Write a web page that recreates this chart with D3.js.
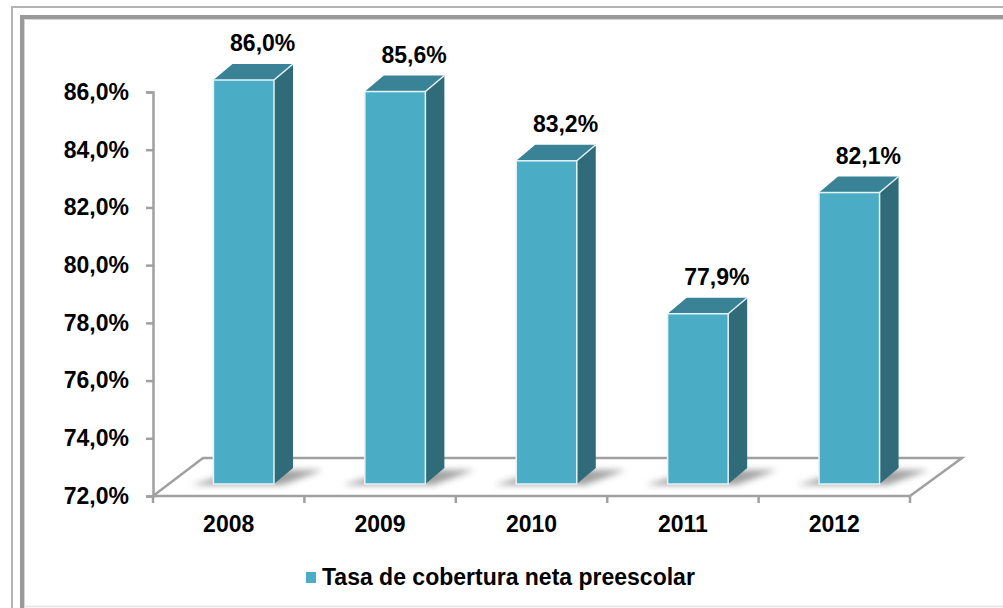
<!DOCTYPE html>
<html>
<head>
<meta charset="utf-8">
<script src="https://cdn.jsdelivr.net/npm/d3@7"></script>
<style>
  body { margin: 0; background: #fff; }
  svg { display: block; font-family: "Liberation Sans", Arial, sans-serif; font-weight: bold; }
</style>
</head>
<body>
<svg id="chart" width="1003" height="608"></svg>
<script>
// data
const years = ["2008", "2009", "2010", "2011", "2012"];
const coverage = [86.0, 85.6, 83.2, 77.9, 82.1];
const yTicks = [72, 74, 76, 78, 80, 82, 84, 86];
const seriesName = "Tasa de cobertura neta preescolar";

const colFront = "#4bacc6", colTop = "#3a8396", colSide = "#306b7a";
const fs = 23;

const svg = d3.select("#chart");

const locale = d3.formatLocale({decimal: ",", thousands: ".", grouping: [3], currency: ["", ""]});
const fmt = d => locale.format(".1f")(d) + "%";

// frame
svg.append("rect").attr("x", 12).attr("y", 7).attr("width", 1010).attr("height", 620)
  .attr("fill", "none").attr("stroke", "#b4b4b4").attr("stroke-width", 2);
svg.append("rect").attr("x", 22).attr("y", 17).attr("width", 1000).attr("height", 620)
  .attr("fill", "none").attr("stroke", "#9a9a9a").attr("stroke-width", 4);
svg.append("rect").attr("x", 24.5).attr("y", 19.5).attr("width", 1000).attr("height", 620)
  .attr("fill", "none").attr("stroke", "#d6d6d6").attr("stroke-width", 1);
svg.append("line").attr("x1", 24).attr("x2", 1003).attr("y1", 606.5).attr("y2", 606.5)
  .attr("stroke", "#e4e4e4").attr("stroke-width", 1.5);

const y = d3.scaleLinear().domain([72, 86]).range([496, 92]);
const x = d3.scaleBand().domain(years).range([153, 910]).paddingInner(0.6).paddingOuter(0.3);

const depth = {dx: 50, dy: -38};   // floor depth
const shift = {dx: 15, dy: -12};   // bar front face inside the floor
const bd = {dx: 19, dy: -16};      // bar depth

const base = y.domain()[0];
const [x0, x1] = x.range();

// floor
svg.append("path")
  .attr("d", `M${x0},${y(base)} L${x0 + depth.dx},${y(base) + depth.dy} L${x1 + 52},${y(base) + depth.dy} L${x1},${y(base)}`)
  .attr("fill", "none").attr("stroke", "#a0a0a0").attr("stroke-width", 2.5);

// shadow filter
const defs = svg.append("defs");
defs.append("filter").attr("id", "blur").attr("x", "-50%").attr("y", "-50%").attr("width", "200%").attr("height", "200%")
  .append("feGaussianBlur").attr("stdDeviation", 3);

const bars = svg.append("g").selectAll("g").data(years).join("g");

bars.each(function(d, i) {
  const g = d3.select(this);
  const fl = x(d) + shift.dx, fr = fl + x.bandwidth();
  const fb = y(base) + shift.dy, ft = y(coverage[i]) + shift.dy;
  // shadow
  g.append("path")
    .attr("d", `M${fl - 22},${fb + 1} L${fr + 8},${fb + 1} L${fr + bd.dx + 30},${fb + bd.dy + 2} L${fl + bd.dx + 10},${fb + bd.dy + 2}Z`)
    .attr("fill", "#7a7a7a").attr("opacity", 0.7).attr("filter", "url(#blur)");
  // side
  g.append("path")
    .attr("d", `M${fr},${fb} L${fr + bd.dx},${fb + bd.dy} L${fr + bd.dx},${ft + bd.dy} L${fr},${ft}Z`)
    .attr("fill", colSide);
  // top
  g.append("path")
    .attr("d", `M${fl},${ft} L${fr},${ft} L${fr + bd.dx},${ft + bd.dy} L${fl + bd.dx},${ft + bd.dy}Z`)
    .attr("fill", colTop);
  // front
  g.append("rect").attr("x", fl).attr("y", ft).attr("width", x.bandwidth()).attr("height", fb - ft)
    .attr("fill", colFront).attr("stroke", "#e6f3f7").attr("stroke-width", 1.5);
  g.append("line").attr("x1", fr).attr("y1", ft).attr("x2", fr + bd.dx).attr("y2", ft + bd.dy)
    .attr("stroke", "#e6f3f7").attr("stroke-width", 1.5);
  // value label
  g.append("text").attr("x", fl + x.bandwidth() / 2 + 19).attr("y", ft + bd.dy - 13)
    .attr("text-anchor", "middle").attr("font-size", fs).attr("fill", "#000")
    .text(fmt(coverage[i]));
});

// y axis
const yAxis = svg.append("g").attr("transform", `translate(${x0},0)`)
  .call(d3.axisLeft(y).tickValues(yTicks).tickFormat(fmt).tickSize(7).tickPadding(17));
yAxis.select(".domain").attr("stroke", "#a0a0a0").attr("stroke-width", 2.5);
yAxis.selectAll(".tick line").attr("stroke", "#a0a0a0").attr("stroke-width", 2.5);
yAxis.selectAll(".tick text").attr("font-size", fs).attr("font-family", "Liberation Sans, Arial, sans-serif")
  .attr("font-weight", "bold").attr("fill", "#000");

// x axis: boundary ticks
const xg = svg.append("g").attr("transform", `translate(0,${y(base)})`);
xg.append("line").attr("x1", x0).attr("x2", x1).attr("stroke", "#a0a0a0").attr("stroke-width", 2.5);
xg.selectAll(".bt").data(d3.range(years.length + 1)).join("line")
  .attr("x1", i => x0 + i * x.step()).attr("x2", i => x0 + i * x.step())
  .attr("y1", 0).attr("y2", 7).attr("stroke", "#a0a0a0").attr("stroke-width", 2.5);
xg.selectAll(".xl").data(years).join("text")
  .attr("x", d => x(d) + x.bandwidth() / 2).attr("y", 36)
  .attr("text-anchor", "middle").attr("font-size", fs).attr("fill", "#000")
  .text(d => d);

// legend
const lg = svg.append("g").attr("transform", "translate(306,572)");
lg.append("rect").attr("width", 10).attr("height", 11).attr("fill", colFront);
lg.append("text").attr("x", 16).attr("y", 13).attr("font-size", fs).attr("fill", "#000").text(seriesName);
</script>
</body>
</html>
